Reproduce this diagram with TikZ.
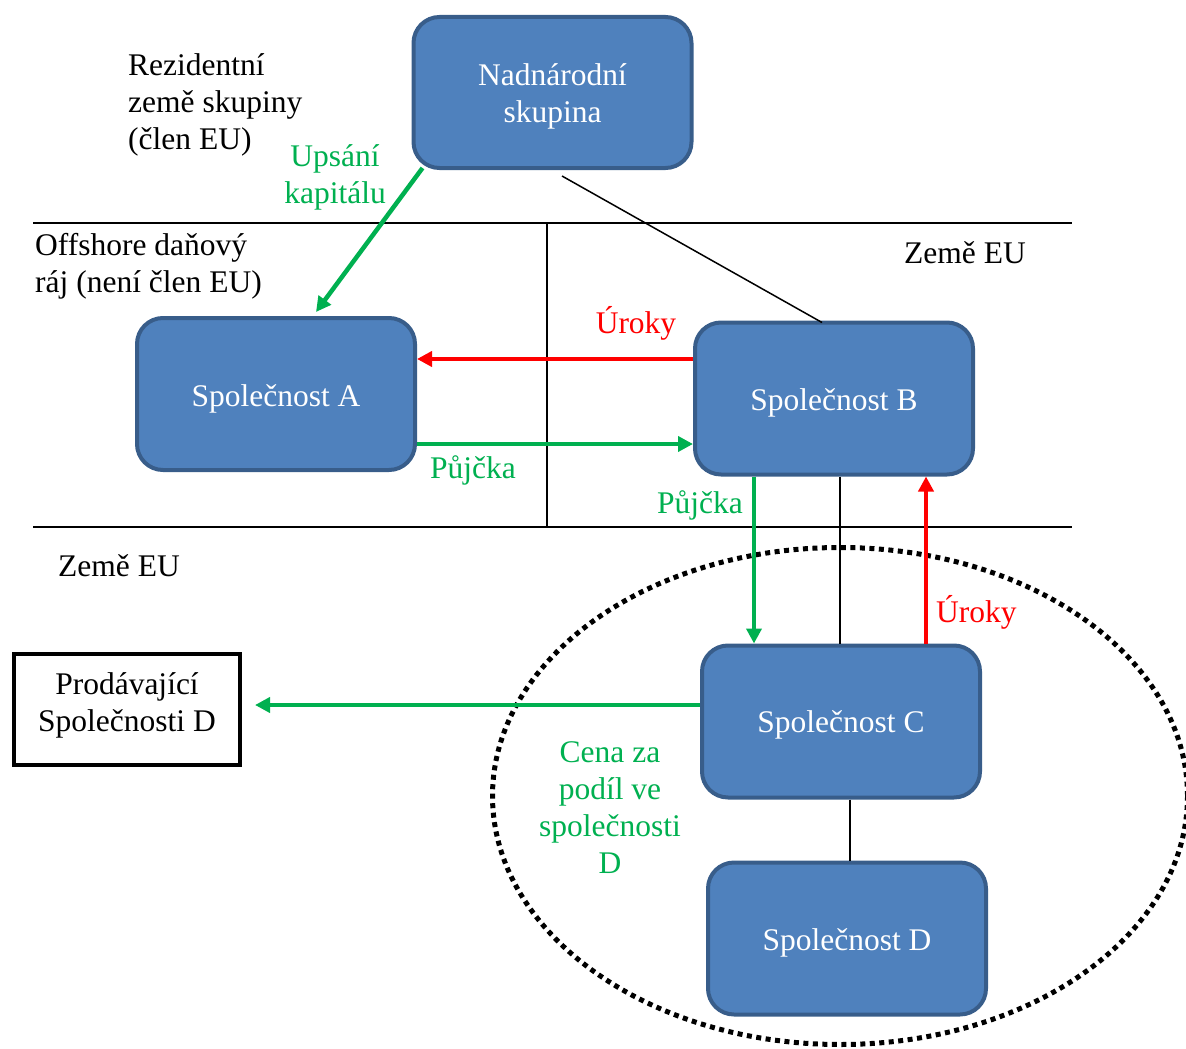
\documentclass[tikz,border=0pt]{standalone}
\usepackage{fontspec}
\setmainfont{Liberation Serif}
\usetikzlibrary{arrows.meta,calc,shapes.geometric}
\definecolor{boxfill}{HTML}{4F81BD}
\definecolor{boxedge}{HTML}{385D8A}
\definecolor{flowgreen}{HTML}{00B050}
\definecolor{flowred}{HTML}{FF0000}
% shift a line of box text vertically without changing the box size
\newcommand{\lowered}[2]{\raisebox{#1}[\height][\depth]{#2}}
\begin{document}
\begin{tikzpicture}[x=1pt,y=-1pt,
  every node/.style={font=\fontsize{31.5}{37}\selectfont, inner sep=0pt},
  company/.style={draw=boxedge, fill=boxfill, line width=4pt, rounded corners=26pt,
    minimum width=278pt, minimum height=152pt, text=white, align=center},
  seller/.style={draw=black, line width=4pt, minimum width=226pt, minimum height=111pt, align=center},
  green/.style={text=flowgreen, align=center},
  red/.style={text=flowred},
  region/.style={align=left, anchor=base west},
  garrow/.style={draw=flowgreen, line width=4.5pt, -{Triangle[length=15pt,width=15pt]}},
  rarrow/.style={draw=flowred, line width=4.5pt, -{Triangle[length=15pt,width=15pt]}},
  tie/.style={draw=black, line width=1.5pt},
  border/.style={draw=black, line width=2pt}]
\useasboundingbox (0,0) rectangle (1186,1049);

% region borders
\coordinate (h1l) at (33,223);  \coordinate (h1r) at (1072,223);
\coordinate (h2l) at (33,527);  \coordinate (h2r) at (1072,527);
\coordinate (vt) at (547,223);  \coordinate (vb) at (547,527);
\draw[border] (h1l) -- (h1r);
\draw[border] (h2l) -- (h2r);
\draw[border] (vt) -- (vb);

% dotted group around C and D
\node[draw=black, line width=5pt, dash pattern=on 5pt off 4.5pt, ellipse, minimum width=695pt,
  minimum height=497pt] (grp) at (840,796) {};

% companies
\node[company, minimum height=151pt] (N) at (552.5,92.5)
  {\lowered{-4pt}{Nadnárodní}\\\lowered{-4pt}{skupina}};
\node[company] (A) at (276,394) {\lowered{-5pt}{Společnost A}};
\node[company] (B) at (834,398.5) {\lowered{-4pt}{Společnost B}};
\node[company] (C) at (841,721.5) {\lowered{-3pt}{Společnost C}};
\node[company] (D) at (847,938.5) {\lowered{-4pt}{Společnost D}};
\node[seller] (P) at (127,709.5)
  {\lowered{4pt}{Prodávající}\\\lowered{4pt}{Společnosti D}};

% region labels (base anchor sits on the last line)
\node[region] (r1) at (128,149) {Rezidentní\\země skupiny\\(člen EU)};
\node[region] (r2) at (35,292) {Offshore daňový\\ráj (není člen EU)};
\node[region] (r3) at (904,263) {Země EU};
\node[region] (r4) at (58,576) {Země EU};

% ownership ties
\draw[tie] ($(N.south)+(9.5,6)$) -- ($(B.north)+(-12,2)$);
\draw[tie] ($(B.south)+(6,0)$) -- ($(C.north)+(-1,0)$);
\draw[tie] ($(C.south)+(9,0)$) -- ($(D.north)+(3,0)$);

% flows
\draw[garrow] ($(N.south west)+(11,-2)$) -- ($(A.north)+(40,-4)$);
\draw[rarrow] ($(B.west)+(0,-39.5)$) -- ($(A.east)+(0,-35)$);
\draw[garrow] ($(A.east)+(0,50)$) -- ($(B.west)+(0,45.5)$);
\draw[garrow] ($(B.south)+(-80,0)$) -- ($(C.north)+(-87,0)$);
\draw[rarrow] ($(C.north)+(85,0)$) -- ($(B.south)+(92,0)$);
\draw[garrow] ($(C.west)+(0,-16.5)$) -- ($(P.east)+(13,-4.5)$);

% flow labels
\node[green, anchor=base] (l1) at (335,203) {Upsání\\kapitálu};
\node[red, anchor=base] (l2) at (636,333) {Úroky};
\node[green, anchor=base west] (l3) at (430,478) {Půjčka};
\node[green, anchor=base west] (l4) at (657,513) {Půjčka};
\node[red, anchor=base west] (l5) at (936,622) {Úroky};
\node[green, anchor=base] (l6) at (610,873) {Cena za\\podíl ve\\společnosti\\D};
\end{tikzpicture}
\end{document}
